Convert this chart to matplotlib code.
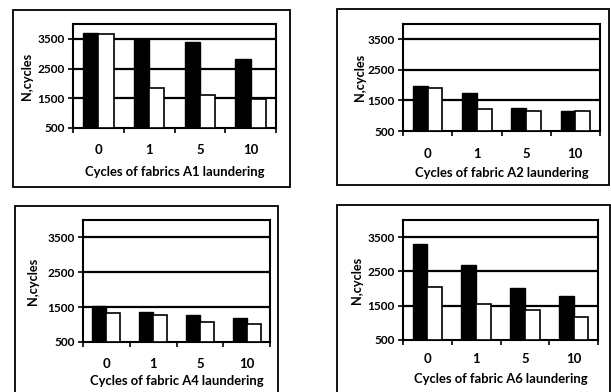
import numpy as np
import matplotlib.pyplot as plt
from matplotlib.patches import Rectangle

plt.rcParams['font.family'] = ['Lato', 'DejaVu Sans']
plt.rcParams['font.weight'] = 'bold'

cycles = ["0", "1", "5", "10"]

a1_black = [3710, 3500, 3380, 2820]
a1_white = [3660, 1860, 1600, 1480]
a2_black = [1960, 1740, 1260, 1160]
a2_white = [1900, 1210, 1170, 1150]
a4_black = [1540, 1350, 1270, 1200]
a4_white = [1320, 1270, 1060, 1030]
a6_black = [3300, 2680, 2020, 1780]
a6_white = [2040, 1540, 1380, 1160]

titles = ["Cycles of fabrics A1 laundering", "Cycles of fabric A2 laundering",
          "Cycles of fabric A4 laundering", "Cycles of fabric A6 laundering"]

W, H = 611, 392
fig = plt.figure(figsize=(W / 100, H / 100), dpi=100)


def px_rect(l, t, r, b):
    return [l / W, 1 - b / H, (r - l) / W, (b - t) / H]


# (box, axes, xtick pad px, xlabel offset px, ylabel offset px)
panels = [
    ((13, 10, 290, 187), (73, 24, 276, 128), 16, 44, 46),
    ((337, 9, 609, 185), (403, 24, 600, 131), 17, 42, 43),
    ((15, 206, 278, 400), (83, 220, 270, 342), 16, 39, 50),
    ((337, 205, 610, 400), (403, 220, 598, 340), 13, 39, 46),
]
data = [(a1_black, a1_white), (a2_black, a2_white),
        (a4_black, a4_white), (a6_black, a6_white)]

for (box, axr, tpad, xoff, yoff), (blk, wht), title in zip(panels, data, titles):
    l, t, r, b = box
    fig.patches.append(Rectangle((l / W, 1 - b / H), (r - l) / W, (b - t) / H,
                                 transform=fig.transFigure, fill=False,
                                 edgecolor='black', linewidth=1.3))
    ax = fig.add_axes(px_rect(*axr))
    x = np.arange(len(cycles))
    base = 500
    ax.bar(x - 0.15, np.array(blk) - base, 0.3, bottom=base, color='black',
           edgecolor='black', linewidth=1.0, zorder=3)
    ax.bar(x + 0.15, np.array(wht) - base, 0.3, bottom=base, color='white',
           edgecolor='black', linewidth=1.2, zorder=3)
    for g in [1500, 2500, 3500]:
        ax.axhline(g, color='black', linewidth=1.6, zorder=1)
    ax.set_xlim(-0.5, 3.5)
    ax.set_ylim(500, 4000)
    ax.set_yticks([500, 1500, 2500, 3500])
    ax.set_xticks(x)
    ax.set_xticklabels(cycles)
    ax.set_xticks([-0.5, 0.5, 1.5, 2.5, 3.5], minor=True)
    ax.tick_params(axis='x', which='major', length=0, pad=tpad * 0.72,
                   labelsize=9.5)
    ax.tick_params(axis='x', which='minor', length=3.6, width=1.2,
                   direction='out')
    ax.tick_params(axis='y', length=3.6, width=1.2, direction='out', pad=2.5,
                   labelsize=8.6)
    for s in ax.spines.values():
        s.set_linewidth(1.5)
    ah = axr[3] - axr[1]
    aw = axr[2] - axr[0]
    ax.set_xlabel(title, fontsize=9.4, fontweight='bold', va='center')
    ax.xaxis.set_label_coords(0.5, -xoff / ah)
    ax.set_ylabel("N,cycles", fontsize=9.2, fontweight='bold', va='center')
    ax.yaxis.set_label_coords(-yoff / aw, 0.5)

fig.savefig("out.png", dpi=100)
